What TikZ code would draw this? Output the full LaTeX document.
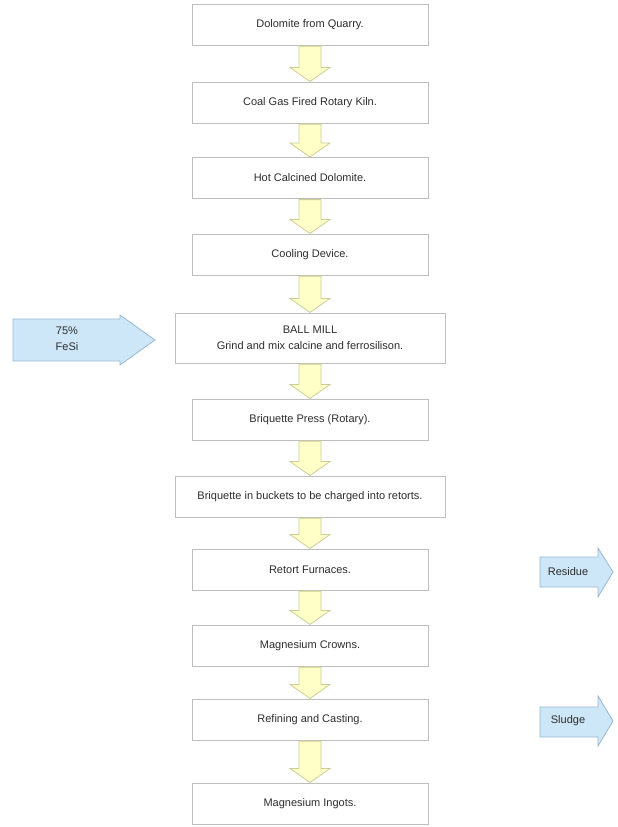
\documentclass[tikz,border=0pt]{standalone}
\usepackage{fontspec}
\setmainfont{Liberation Sans}
\usetikzlibrary{calc}
\definecolor{bordc}{RGB}{190,190,190}
\definecolor{txt}{RGB}{45,45,45}
\definecolor{yfill}{RGB}{255,255,200}
\definecolor{ybord}{RGB}{205,205,150}
\definecolor{bfill}{RGB}{205,230,248}
\definecolor{bbord}{RGB}{150,185,210}
\tikzset{
  box/.style={draw=bordc, line width=1pt, fill=white, minimum width=236pt, minimum height=41pt,
    inner sep=0pt, font=\fontsize{11}{16}\selectfont, text=txt, align=center},
  widebox/.style={box, minimum width=270pt},
  yarr/.style={fill=yfill, draw=ybord, line width=0.8pt},
  barr/.style={fill=bfill, draw=bbord, line width=0.8pt},
  sidelabel/.style={font=\fontsize{11}{16}\selectfont, text=txt, align=center, inner sep=0pt}
}
\newcommand\flowarrow[2]{%
  \path[yarr] let \p1=(#1.south), \p2=(#2.north) in
  (\x1-11pt,\y1-0.6pt) -- (\x1+11pt,\y1-0.6pt) -- (\x1+11pt,\y2+14pt) -- (\x1+20pt,\y2+14pt)
  -- (\x1,\y2) -- (\x1-20pt,\y2+14pt) -- (\x1-11pt,\y2+14pt) -- cycle;}
\begin{document}
\begin{tikzpicture}[x=1pt,y=-1pt]
\useasboundingbox (0,0) rectangle (618,827);
\node[box] (b1) at (310,24.5) {Dolomite from Quarry.};
\node[box] (b2) at (310,102.5) {Coal Gas Fired Rotary Kiln.};
\node[box] (b3) at (310,178) {Hot Calcined Dolomite.};
\node[box] (b4) at (310,254.5) {Cooling Device.};
\node[widebox, minimum height=50pt] (b5) at (310,338) {BALL MILL\\Grind and mix calcine and ferrosilison.};
\node[box] (b6) at (310,419.5) {Briquette Press (Rotary).};
\node[widebox] (b7) at (310,496.5) {Briquette in buckets to be charged into retorts.};
\node[box] (b8) at (310,569.5) {Retort Furnaces.};
\node[box] (b9) at (310,645.5) {Magnesium Crowns.};
\node[box] (b10) at (310,719.5) {Refining and Casting.};
\node[box] (b11) at (310,803.5) {Magnesium Ingots.};
\flowarrow{b1}{b2}
\flowarrow{b2}{b3}
\flowarrow{b3}{b4}
\flowarrow{b4}{b5}
\flowarrow{b5}{b6}
\flowarrow{b6}{b7}
\flowarrow{b7}{b8}
\flowarrow{b8}{b9}
\flowarrow{b9}{b10}
\flowarrow{b10}{b11}
% side arrows
\path[barr] (13,319) -- (120,319) -- (120,315) -- (155,340) -- (120,365) -- (120,361) -- (13,361) -- cycle;
\node[sidelabel] (fesi) at (67,339) {75\%\\FeSi};
\path[barr] (540,557) -- (598,557) -- (598,548) -- (613,572) -- (598,597) -- (598,587) -- (540,587) -- cycle;
\node[sidelabel] (res) at (568,572) {Residue};
\path[barr] (540,707) -- (598,707) -- (598,696) -- (613,721) -- (598,746) -- (598,737) -- (540,737) -- cycle;
\node[sidelabel] (slu) at (568,721) {Sludge};
\end{tikzpicture}
\end{document}
